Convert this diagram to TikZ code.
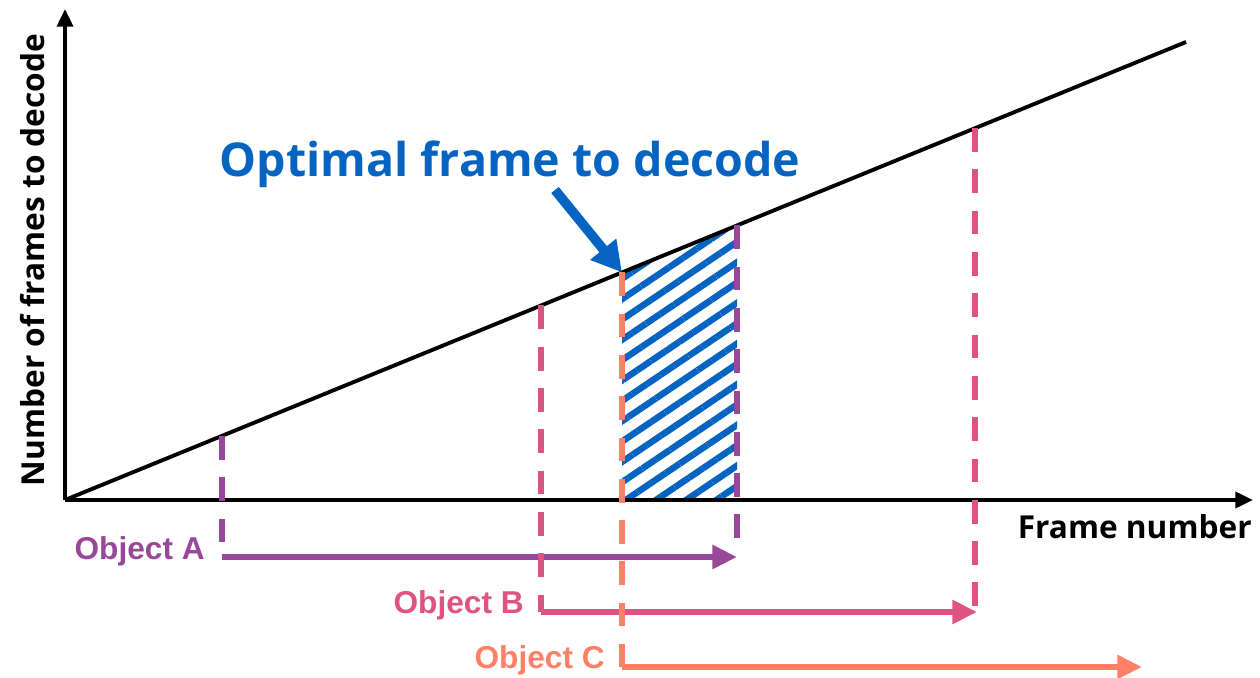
\documentclass[tikz,border=0pt]{standalone}
\usepackage{fontspec}
\setmainfont{Liberation Sans}
\newfontfamily\gothic{Open Sans}
\usetikzlibrary{arrows.meta, positioning, patterns.meta}
\definecolor{ObjPurple}{HTML}{984898}
\definecolor{ObjPink}{HTML}{DF5284}
\definecolor{ObjCoral}{HTML}{FF8066}
\definecolor{OptBlue}{HTML}{0563C1}

\begin{document}
\begin{tikzpicture}[x=0.02cm, y=-0.02cm,
    axis/.style={line width=2.2pt, -{Triangle[length=10pt, width=9pt]}},
    guide/.style={line width=3.6pt, dash pattern=on 13.5pt off 10pt},
    span/.style={line width=3.6pt, -{Triangle[length=14pt, width=13pt]}},
    objlabel/.style={font=\bfseries\fontsize{18}{20}\selectfont, anchor=east, inner sep=0pt}]

    \useasboundingbox (0,0) rectangle (1260,678);

    % Points on the cost line
    \coordinate (O) at (65,500);
    \coordinate (lineEnd) at (1186,42);
    \coordinate (aTop) at (222,436);
    \coordinate (bTop) at (541,305.5);
    \coordinate (cTop) at (622,272.4);
    \coordinate (aEnd) at (737,225.4);
    \coordinate (bEnd) at (975,128.2);

    % Optimal region (hatched)
    \fill[pattern={Lines[angle=34, distance=9.6pt, line width=3.7pt]}, pattern color=OptBlue]
        (622,500) -- (cTop) -- (aEnd) -- (737,500) -- cycle;

    % Axes
    \coordinate (yTip) at (65,9);
    \coordinate (xTip) at (1253,500);
    \draw[axis] (O) -- (yTip);
    \draw[axis] (O) -- (xTip);
    \draw[line width=2.2pt] (O) -- (lineEnd);

    % Axis labels
    \node[rotate=90, font=\gothic\bfseries\fontsize{18}{22}\selectfont] (yLabel) at (33,260) {Number of frames to decode};
    \node[anchor=east, inner sep=0pt, font=\gothic\bfseries\fontsize{18}{22}\selectfont] (xLabel) at (1252,527) {Frame number};

    % Object A
    \coordinate (aStart) at (222,557);
    \coordinate (aStop) at (737,557);
    \draw[guide, ObjPurple] (aTop) -- (aStart);
    \draw[guide, ObjPurple] (aEnd) -- (737,550);
    \draw[span, ObjPurple] (aStart) -- (aStop);
    \node[objlabel, ObjPurple] (aLabel) at (205,551) {Object A};

    % Object B
    \coordinate (bStart) at (541,612);
    \coordinate (bStop) at (977,612);
    \draw[guide, ObjPink] (bTop) -- (bStart);
    \draw[guide, ObjPink] (bEnd) -- (975,614);
    \draw[span, ObjPink] (bStart) -- (bStop);
    \node[objlabel, ObjPink] (bLabel) at (524,605) {Object B};

    % Object C
    \coordinate (cStart) at (622,667);
    \coordinate (cStop) at (1142,667);
    \draw[guide, ObjCoral] (cTop) -- (cStart);
    \draw[span, ObjCoral] (cStart) -- (cStop);
    \node[objlabel, ObjCoral] (cLabel) at (605,660) {Object C};

    % Optimal frame callout
    \node[font=\gothic\bfseries\fontsize{26.5}{32}\selectfont, text=OptBlue] (optLabel) at (510,164) {Optimal frame to decode};
    \coordinate (optFrom) at (555,190);
    \draw[line width=5.5pt, OptBlue, -{Triangle[length=17pt, width=18pt]}] (optFrom) -- (cTop);
\end{tikzpicture}
\end{document}
